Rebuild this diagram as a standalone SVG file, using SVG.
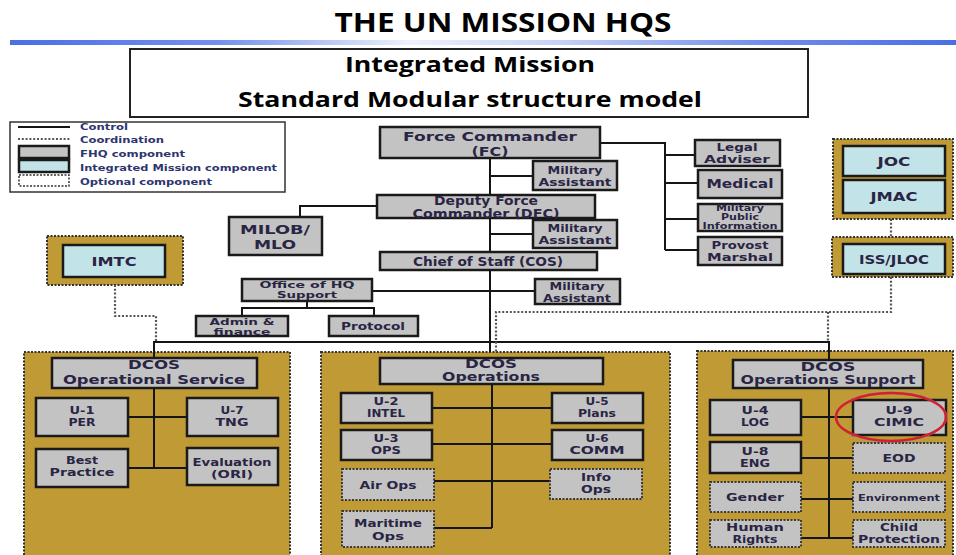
<svg xmlns="http://www.w3.org/2000/svg" width="956" height="555" viewBox="0 0 956 555">
<defs>
<linearGradient id="bar" x1="0" y1="0" x2="1" y2="0">
<stop offset="0" stop-color="#4a6fe3"/>
<stop offset="0.22" stop-color="#7290ec"/>
<stop offset="0.42" stop-color="#eef1fc"/>
<stop offset="0.58" stop-color="#c5d1f6"/>
<stop offset="0.8" stop-color="#6f8cea"/>
<stop offset="1" stop-color="#4a6fe3"/>
</linearGradient>
<style>
.box{fill:#c3c3c3;stroke:#1a1a1a;stroke-width:2.5}
.im{fill:#c2e3e8;stroke:#1a1a1a;stroke-width:2.5}
.opt{fill:#c3c3c3;stroke:#3a3a3a;stroke-width:2;stroke-dasharray:2 1.5}
.panel{fill:#bf9a35;stroke:#333;stroke-width:2;stroke-dasharray:2 1.5}
.ctl{stroke:#151515;stroke-width:2;fill:none}
.coord{stroke:#555;stroke-width:2.2;stroke-dasharray:2 1.8;fill:none}
.t{font-family:"DejaVu Sans",sans-serif;font-weight:bold;fill:#2a2545;text-anchor:middle}
.s14{font-size:14px}.s13{font-size:13px}.s12{font-size:12px}.s11{font-size:11px}.s10{font-size:10px}.s9{font-size:9.5px}.s8{font-size:8px}
.lg{font-family:"DejaVu Sans",sans-serif;font-weight:bold;font-size:8.5px;fill:#2d3570}
.hd{font-family:"Open Sans","Liberation Sans",sans-serif;font-weight:bold;fill:#000;text-anchor:middle}
</style>
</defs>
<rect width="956" height="555" fill="#fff"/>
<text class="hd" x="503" y="32" font-size="27" textLength="337" lengthAdjust="spacingAndGlyphs">THE UN MISSION HQS</text>
<rect x="10" y="40" width="946" height="5" fill="url(#bar)"/>
<g id="title">
<rect x="130" y="49" width="678" height="68" fill="#fff" stroke="#222" stroke-width="2"/>
<text class="hd" x="470" y="72" font-size="22" textLength="250" lengthAdjust="spacingAndGlyphs">Integrated Mission</text>
<text class="hd" x="470" y="107" font-size="22" textLength="464" lengthAdjust="spacingAndGlyphs">Standard Modular structure model</text>
</g>
<g id="legend">
<rect x="10" y="122" width="275" height="70" fill="#fff" stroke="#333" stroke-width="1.5"/>
<line x1="18" y1="127" x2="70" y2="127" class="ctl"/>
<line x1="18" y1="139" x2="70" y2="139" class="coord" stroke-width="1.5"/>
<rect x="19" y="146" width="50" height="12" class="box" stroke-width="2"/>
<rect x="19" y="160" width="50" height="12" class="im" stroke-width="2"/>
<rect x="19" y="175" width="50" height="11" fill="#fff" stroke="#333" stroke-width="1.5" stroke-dasharray="2 1.5"/>
<text class="lg" x="80" y="130" textLength="48" lengthAdjust="spacingAndGlyphs">Control</text>
<text class="lg" x="80" y="143" textLength="84" lengthAdjust="spacingAndGlyphs">Coordination</text>
<text class="lg" x="80" y="157" textLength="105" lengthAdjust="spacingAndGlyphs">FHQ component</text>
<text class="lg" x="80" y="171" textLength="197" lengthAdjust="spacingAndGlyphs">Integrated Mission component</text>
<text class="lg" x="80" y="185" textLength="132" lengthAdjust="spacingAndGlyphs">Optional component</text>
</g>
<g id="panels">
<rect x="24" y="352" width="266" height="210" class="panel"/>
<rect x="321" y="352" width="349" height="210" class="panel"/>
<rect x="697" y="351" width="256" height="210" class="panel"/>
<rect x="47" y="236" width="136" height="49" class="panel"/>
<rect x="833" y="139" width="120" height="80" class="panel"/>
<rect x="832" y="237" width="121" height="40" class="panel"/>
</g>
<g id="connectors">
<path class="ctl" d="M490 158V352"/>
<path class="ctl" d="M490 176H533M490 234H533M372 291H535"/>
<path class="ctl" d="M377 206H300V217"/>
<path class="ctl" d="M307 301V308M242 316V308H374V316"/>
<path class="ctl" d="M600 143H665V250M665 155H695M665 183H698M665 219H698M665 250H698"/>
<path class="ctl" stroke="#444" d="M154 358V342H829V360"/>
<path class="coord" d="M115 285V316H156V342"/>
<path class="coord" d="M891 277V312H496V352M828 312V342"/>
<path class="coord" d="M891 219V237"/>
<path class="ctl" d="M154 388V468M128 417H187M128 468H187"/>
<path class="ctl" d="M492 384V528M432 408H552M432 444H552M434 481H550M434 528H492"/>
<path class="ctl" d="M829 388V538M801 417H853M801 458H853M801 499H853M801 538H853"/>
</g>
<g id="fc"><rect x="380" y="127" width="220" height="31" class="box"/><text class="t s13" x="490" y="141" textLength="174" lengthAdjust="spacingAndGlyphs">Force Commander</text><text class="t s13" x="490" y="156" textLength="37" lengthAdjust="spacingAndGlyphs">(FC)</text></g>
<g id="ma1"><rect x="533" y="161" width="84" height="29" class="box"/><text class="t s11" x="575" y="174" textLength="55" lengthAdjust="spacingAndGlyphs">Military</text><text class="t s11" x="575" y="186" textLength="73" lengthAdjust="spacingAndGlyphs">Assistant</text></g>
<g id="dfc"><rect x="377" y="195" width="218" height="23" class="box"/><text class="t s12" x="486" y="205" textLength="104" lengthAdjust="spacingAndGlyphs">Deputy Force</text><text class="t s12" x="486" y="218" textLength="147" lengthAdjust="spacingAndGlyphs">Commander (DFC)</text></g>
<g id="milob"><rect x="229" y="217" width="93" height="38" class="box"/><text class="t s13" x="275" y="234" textLength="70" lengthAdjust="spacingAndGlyphs">MILOB/</text><text class="t s13" x="275" y="249" textLength="42" lengthAdjust="spacingAndGlyphs">MLO</text></g>
<g id="ma2"><rect x="533" y="220" width="84" height="28" class="box"/><text class="t s11" x="575" y="232" textLength="55" lengthAdjust="spacingAndGlyphs">Military</text><text class="t s11" x="575" y="244" textLength="73" lengthAdjust="spacingAndGlyphs">Assistant</text></g>
<g id="cos"><rect x="380" y="252" width="217" height="18" class="box"/><text class="t s12" x="488" y="266" textLength="150" lengthAdjust="spacingAndGlyphs">Chief of Staff (COS)</text></g>
<g id="ma3"><rect x="535" y="279" width="85" height="25" class="box"/><text class="t s11" x="577" y="290" textLength="55" lengthAdjust="spacingAndGlyphs">Military</text><text class="t s11" x="577" y="302" textLength="68" lengthAdjust="spacingAndGlyphs">Assistant</text></g>
<g id="ohq"><rect x="242" y="279" width="130" height="22" class="box"/><text class="t s9" x="307" y="288" textLength="95" lengthAdjust="spacingAndGlyphs">Office of HQ</text><text class="t s9" x="307" y="298" textLength="60" lengthAdjust="spacingAndGlyphs">Support</text></g>
<g id="admin"><rect x="196" y="316" width="92" height="20" class="box"/><text class="t" font-size="8.3" x="242" y="325" textLength="65" lengthAdjust="spacingAndGlyphs">Admin &amp;</text><text class="t" font-size="8.3" x="242" y="334.5" textLength="57" lengthAdjust="spacingAndGlyphs">finance</text></g>
<g id="protocol"><rect x="329" y="316" width="89" height="20" class="box"/><text class="t s11" x="373" y="330" textLength="64" lengthAdjust="spacingAndGlyphs">Protocol</text></g>
<g id="legal"><rect x="695" y="140" width="85" height="26" class="box"/><text class="t s11" x="737" y="151" textLength="41" lengthAdjust="spacingAndGlyphs">Legal</text><text class="t s11" x="737" y="163" textLength="66" lengthAdjust="spacingAndGlyphs">Adviser</text></g>
<g id="medical"><rect x="698" y="170" width="84" height="28" class="box"/><text class="t s12" x="740" y="188" textLength="67" lengthAdjust="spacingAndGlyphs">Medical</text></g>
<g id="mpi"><rect x="698" y="204" width="84" height="27" class="box"/><text class="t s8" x="740" y="211" textLength="48" lengthAdjust="spacingAndGlyphs">Military</text><text class="t s8" x="740" y="220" textLength="38" lengthAdjust="spacingAndGlyphs">Public</text><text class="t s8" x="740" y="229" textLength="75" lengthAdjust="spacingAndGlyphs">Information</text></g>
<g id="provost"><rect x="698" y="237" width="84" height="28" class="box"/><text class="t s11" x="740" y="249" textLength="57" lengthAdjust="spacingAndGlyphs">Provost</text><text class="t s11" x="740" y="261" textLength="66" lengthAdjust="spacingAndGlyphs">Marshal</text></g>
<g id="joc"><rect x="843" y="146" width="102" height="30" class="im"/><text class="t s13" x="894" y="166" textLength="33" lengthAdjust="spacingAndGlyphs">JOC</text></g>
<g id="jmac"><rect x="843" y="180" width="102" height="33" class="im"/><text class="t s13" x="894" y="201" textLength="47" lengthAdjust="spacingAndGlyphs">JMAC</text></g>
<g id="iss"><rect x="843" y="244" width="102" height="30" class="im"/><text class="t s12" x="894" y="264" textLength="70" lengthAdjust="spacingAndGlyphs">ISS/JLOC</text></g>
<g id="imtc"><rect x="63" y="245" width="102" height="32" class="im"/><text class="t s13" x="114" y="266" textLength="45" lengthAdjust="spacingAndGlyphs">IMTC</text></g>
<g id="dcos-os"><rect x="52" y="358" width="205" height="30" class="box"/><text class="t s12" x="154" y="369" textLength="52" lengthAdjust="spacingAndGlyphs">DCOS</text><text class="t s12" x="154" y="384" textLength="182" lengthAdjust="spacingAndGlyphs">Operational Service</text></g>
<g id="u1"><rect x="36" y="398" width="92" height="38" class="box"/><text class="t s11" x="82" y="414" textLength="25" lengthAdjust="spacingAndGlyphs">U-1</text><text class="t s11" x="82" y="426" textLength="27" lengthAdjust="spacingAndGlyphs">PER</text></g>
<g id="u7"><rect x="187" y="398" width="91" height="38" class="box"/><text class="t s11" x="232" y="414" textLength="23" lengthAdjust="spacingAndGlyphs">U-7</text><text class="t s11" x="232" y="426" textLength="33" lengthAdjust="spacingAndGlyphs">TNG</text></g>
<g id="best"><rect x="36" y="449" width="92" height="38" class="box"/><text class="t s11" x="82" y="464" textLength="32" lengthAdjust="spacingAndGlyphs">Best</text><text class="t s11" x="82" y="476" textLength="65" lengthAdjust="spacingAndGlyphs">Practice</text></g>
<g id="eval"><rect x="187" y="448" width="91" height="37" class="box"/><text class="t s11" x="232" y="466" textLength="79" lengthAdjust="spacingAndGlyphs">Evaluation</text><text class="t s11" x="232" y="478" textLength="42" lengthAdjust="spacingAndGlyphs">(ORI)</text></g>
<g id="dcos-ops"><rect x="380" y="358" width="223" height="26" class="box"/><text class="t s12" x="491" y="368" textLength="52" lengthAdjust="spacingAndGlyphs">DCOS</text><text class="t s12" x="491" y="381" textLength="98" lengthAdjust="spacingAndGlyphs">Operations</text></g>
<g id="u2"><rect x="341" y="393" width="91" height="30" class="box"/><text class="t s11" x="386" y="405" textLength="25" lengthAdjust="spacingAndGlyphs">U-2</text><text class="t s11" x="386" y="417" textLength="38" lengthAdjust="spacingAndGlyphs">INTEL</text></g>
<g id="u5"><rect x="552" y="393" width="91" height="30" class="box"/><text class="t s11" x="597" y="405" textLength="23" lengthAdjust="spacingAndGlyphs">U-5</text><text class="t s11" x="597" y="417" textLength="38" lengthAdjust="spacingAndGlyphs">Plans</text></g>
<g id="u3"><rect x="341" y="430" width="91" height="30" class="box"/><text class="t s11" x="386" y="442" textLength="25" lengthAdjust="spacingAndGlyphs">U-3</text><text class="t s11" x="386" y="454" textLength="30" lengthAdjust="spacingAndGlyphs">OPS</text></g>
<g id="u6"><rect x="552" y="430" width="91" height="30" class="box"/><text class="t s11" x="597" y="442" textLength="23" lengthAdjust="spacingAndGlyphs">U-6</text><text class="t s11" x="597" y="454" textLength="55" lengthAdjust="spacingAndGlyphs">COMM</text></g>
<g id="airops"><rect x="342" y="469" width="92" height="31" class="opt"/><text class="t s11" x="388" y="489" textLength="57" lengthAdjust="spacingAndGlyphs">Air Ops</text></g>
<g id="infoops"><rect x="550" y="469" width="92" height="30" class="opt"/><text class="t s11" x="596" y="481" textLength="30" lengthAdjust="spacingAndGlyphs">Info</text><text class="t s11" x="596" y="493" textLength="30" lengthAdjust="spacingAndGlyphs">Ops</text></g>
<g id="maritime"><rect x="342" y="511" width="92" height="36" class="opt"/><text class="t s11" x="388" y="527" textLength="68" lengthAdjust="spacingAndGlyphs">Maritime</text><text class="t s11" x="388" y="540" textLength="32" lengthAdjust="spacingAndGlyphs">Ops</text></g>
<g id="dcos-sup"><rect x="733" y="360" width="190" height="28" class="box"/><text class="t s12" x="828" y="371" textLength="55" lengthAdjust="spacingAndGlyphs">DCOS</text><text class="t s12" x="828" y="384" textLength="175" lengthAdjust="spacingAndGlyphs">Operations Support</text></g>
<g id="u4"><rect x="710" y="400" width="91" height="35" class="box"/><text class="t s11" x="755" y="414" textLength="27" lengthAdjust="spacingAndGlyphs">U-4</text><text class="t s11" x="755" y="426" textLength="28" lengthAdjust="spacingAndGlyphs">LOG</text></g>
<g id="u9"><rect x="853" y="400" width="93" height="35" class="box"/><text class="t s11" x="899" y="414" textLength="27" lengthAdjust="spacingAndGlyphs">U-9</text><text class="t s11" x="899" y="426" textLength="50" lengthAdjust="spacingAndGlyphs">CIMIC</text></g>
<g id="u8"><rect x="710" y="442" width="91" height="31" class="box"/><text class="t s11" x="755" y="455" textLength="27" lengthAdjust="spacingAndGlyphs">U-8</text><text class="t s11" x="755" y="467" textLength="30" lengthAdjust="spacingAndGlyphs">ENG</text></g>
<g id="eod"><rect x="853" y="443" width="92" height="30" class="opt"/><text class="t s11" x="899" y="462" textLength="33" lengthAdjust="spacingAndGlyphs">EOD</text></g>
<g id="gender"><rect x="710" y="482" width="91" height="30" class="opt"/><text class="t s11" x="755" y="501" textLength="58" lengthAdjust="spacingAndGlyphs">Gender</text></g>
<g id="environment"><rect x="853" y="482" width="92" height="30" class="opt"/><text class="t s9" x="899" y="501" textLength="82" lengthAdjust="spacingAndGlyphs">Environment</text></g>
<g id="human"><rect x="710" y="520" width="91" height="27" class="opt"/><text class="t s11" x="755" y="531" textLength="58" lengthAdjust="spacingAndGlyphs">Human</text><text class="t s11" x="755" y="543" textLength="45" lengthAdjust="spacingAndGlyphs">Rights</text></g>
<g id="child"><rect x="853" y="520" width="92" height="27" class="opt"/><text class="t s11" x="899" y="531" textLength="38" lengthAdjust="spacingAndGlyphs">Child</text><text class="t s11" x="899" y="543" textLength="82" lengthAdjust="spacingAndGlyphs">Protection</text></g>
<ellipse cx="891" cy="417" rx="56" ry="25" fill="none" stroke="#8090c8" stroke-width="1"/>
<ellipse cx="891" cy="417" rx="55" ry="24" fill="none" stroke="#d4202e" stroke-width="2.5"/>
</svg>
